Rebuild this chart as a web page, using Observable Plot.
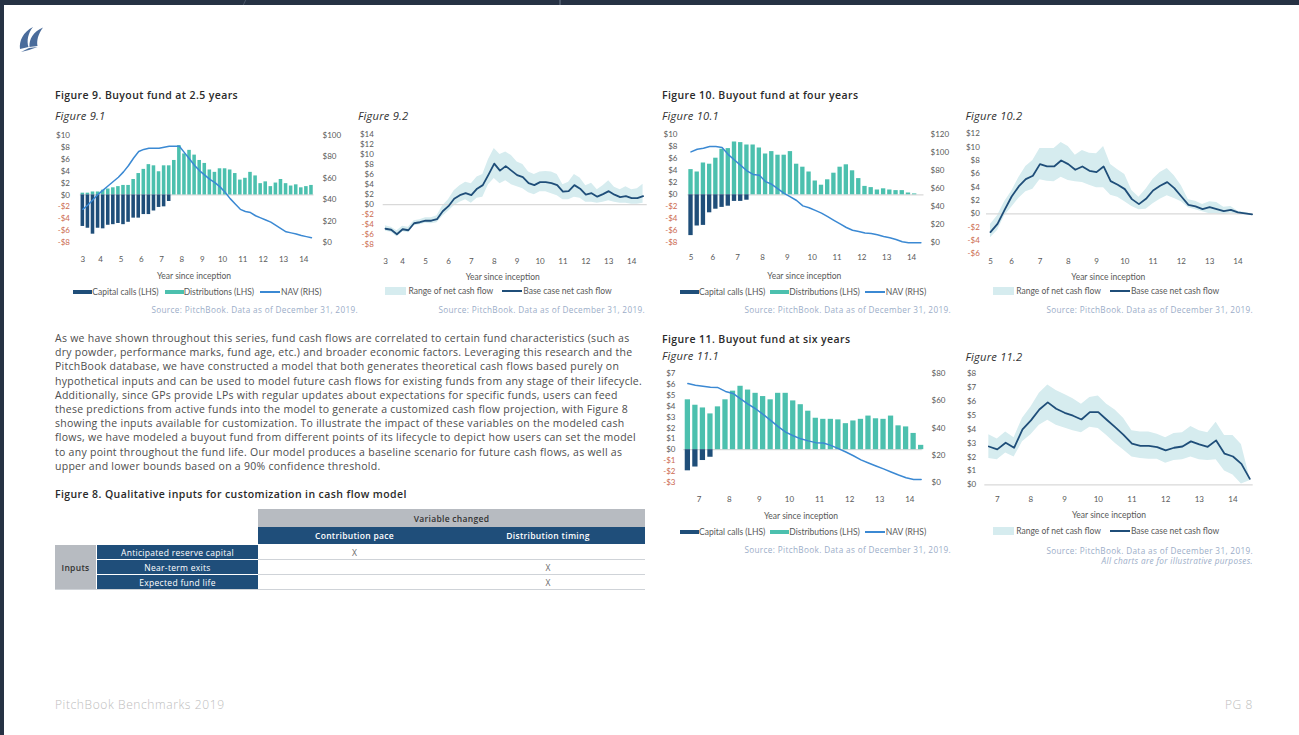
<!DOCTYPE html>
<html><head><meta charset="utf-8">
<script src="https://cdn.jsdelivr.net/npm/d3@7"></script>
<script src="https://cdn.jsdelivr.net/npm/@observablehq/plot@0.6"></script>
<style>
html,body{margin:0;padding:0;}
body{width:1299px;height:735px;position:relative;overflow:hidden;background:#fff;font-family:"Open Sans",sans-serif;}
.t{position:absolute;white-space:nowrap;line-height:1;}
.fig{font-weight:600;font-size:10.5px;letter-spacing:0.4px;color:#2a2a2a;}
.sub{font-style:italic;font-size:11.2px;letter-spacing:0.2px;color:#333;}
.src{font-size:8.2px;letter-spacing:0.35px;color:#9badc8;}
.ax{font-family:Lato,sans-serif;font-size:8.5px;color:#595959;}
.leg{position:absolute;display:flex;align-items:center;font-family:Lato,sans-serif;font-size:8.5px;color:#595959;white-space:nowrap;height:10px;}
.cell{position:absolute;display:flex;align-items:center;justify-content:center;font-size:8.5px;letter-spacing:0.3px;box-sizing:border-box;white-space:nowrap;}
.para{position:absolute;left:55px;top:331px;font-size:10.5px;letter-spacing:0.27px;line-height:14.2px;color:#4d4d4d;white-space:nowrap;}
</style></head>
<body>
<div style="position:absolute;left:0;top:0;width:1299px;height:5px;background:#263244"></div>
<div style="position:absolute;left:0;top:0;width:4px;height:735px;background:#263244"></div>
<div style="position:absolute;left:244px;top:0;width:1px;height:5px;background:#4a5668;transform:skewX(-25deg)"></div>
<div style="position:absolute;left:559px;top:0;width:2px;height:5px;background:#4a5668"></div>
<svg style="position:absolute;left:18px;top:26px" width="28" height="26" viewBox="0 0 28 26">
  <path d="M2,23 C1,15 5,6 15,1 C10,7 8.5,15 10.5,21 Z" fill="#4a6c9b"/>
  <path d="M11.5,21 C11,13 15,6 25,1.5 C20,8 18.5,15 19.5,20 Z" fill="#4a6c9b"/>
  <path d="M3,26 L11,22 L19.5,21 L11,24 Z" fill="#4a6c9b"/>
</svg>

<div class="para" id="para"></div>

<div class="t fig" style="left:55px;top:494px;transform:translateY(-50%)">Figure 8. Qualitative inputs for customization in cash flow model</div>
<div class="cell" style="left:258px;top:509px;width:387px;height:18px;background:#b7bbc1;color:#333;font-weight:600">Variable changed</div>
<div class="cell" style="left:258px;top:527px;width:193px;height:17px;background:#1f4e7a;color:#fff;font-weight:600">Contribution pace</div>
<div class="cell" style="left:451px;top:527px;width:194px;height:17px;background:#1f4e7a;color:#fff;font-weight:600">Distribution timing</div>
<div class="cell" style="left:55px;top:545px;width:41px;height:44px;background:#b7bbc1;color:#333;font-weight:600">Inputs</div>
<div class="cell" style="left:97px;top:545px;width:161px;height:14px;background:#1f4e7a;color:#fff">Anticipated reserve capital</div>
<div class="cell" style="left:97px;top:560px;width:161px;height:14px;background:#1f4e7a;color:#fff">Near-term exits</div>
<div class="cell" style="left:97px;top:575px;width:161px;height:14px;background:#1f4e7a;color:#fff">Expected fund life</div>
<div class="cell" style="left:258px;top:545px;width:387px;height:15px;border-bottom:1px solid #cfd3d8"></div>
<div class="cell" style="left:258px;top:560px;width:387px;height:15px;border-bottom:1px solid #cfd3d8"></div>
<div class="cell" style="left:55px;top:575px;width:590px;height:15px;border-bottom:1px solid #cfd3d8"></div>
<div class="cell" style="left:258px;top:545px;width:193px;height:14px;color:#6a6a6a">X</div>
<div class="cell" style="left:451px;top:560px;width:194px;height:14px;color:#6a6a6a">X</div>
<div class="cell" style="left:451px;top:575px;width:194px;height:14px;color:#6a6a6a">X</div>

<div class="t" style="left:55px;top:705px;transform:translateY(-50%);font-size:12px;letter-spacing:0.6px;font-weight:300;color:#bdbdbd">PitchBook Benchmarks 2019</div>
<div class="t" style="left:1253px;top:705px;transform:translate(-100%,-50%);font-size:12px;letter-spacing:0.6px;font-weight:300;color:#bdbdbd">PG 8</div>

<script>
// ---------- data ----------
const paragraphLines = [
"As we have shown throughout this series, fund cash flows are correlated to certain fund characteristics (such as",
"dry powder, performance marks, fund age, etc.) and broader economic factors. Leveraging this research and the",
"PitchBook database, we have constructed a model that both generates theoretical cash flows based purely on",
"hypothetical inputs and can be used to model future cash flows for existing funds from any stage of their lifecycle.",
"Additionally, since GPs provide LPs with regular updates about expectations for specific funds, users can feed",
"these predictions from active funds into the model to generate a customized cash flow projection, with Figure 8",
"showing the inputs available for customization. To illustrate the impact of these variables on the modeled cash",
"flows, we have modeled a buyout fund from different points of its lifecycle to depict how users can set the model",
"to any point throughout the fund life. Our model produces a baseline scenario for future cash flows, as well as",
"upper and lower bounds based on a 90% confidence threshold."
];

// Figure 9 (fund at 2.5 years), quarterly from year 3
const fig9BarStart = 3.125, fig9LineStart = 3.25;
const fig91Calls = [-5.3,-5.6,-6.6,-5.6,-5.7,-5.1,-5.0,-4.8,-5.0,-4.6,-3.9,-3.9,-3.3,-3.3,-2.7,-2.1,-2.0,-1.1];
const fig91Dist = [0.3,0.3,0.5,0.5,0.8,1.0,1.2,1.4,1.6,1.6,2.6,3.6,4.3,5.1,4.9,3.9,4.9,4.9,5.8,8.3,6.9,7.5,6.7,5.8,5.3,4.2,3.8,4.4,4.4,4.2,3.6,2.5,2.8,3.8,3.2,1.9,2.2,1.4,2.0,2.6,1.9,1.5,1.7,1.2,1.4,1.6];
const fig91Nav = [31,35,40,45,49,53,57,61,66,72,79,85,87,88,88,88,89,90,90,90,84,78,72,67,63,59,56,52,47,41,36,31,29,28,25,23,21,19,16,13,10,9,8,6.5,5.5,4.5];
const fig92Base = [-4.8,-5.0,-5.9,-4.9,-5.1,-3.7,-3.5,-3.2,-3.2,-2.9,-1.3,-0.3,1.2,1.9,2.3,1.9,3.2,3.9,6.0,8.2,6.8,7.7,6.8,5.9,5.5,4.3,3.9,4.5,4.5,4.3,3.9,2.6,2.7,3.9,3.2,2.0,2.3,1.6,2.1,2.7,2.0,1.5,1.7,1.3,1.3,1.7];
const fig92High = [-4.2,-4.5,-5.2,-4.3,-4.5,-3.2,-3.0,-2.6,-2.6,-2.2,-0.2,1.0,2.8,3.8,4.5,4.2,5.5,6.0,9.0,11.2,10.0,10.5,9.8,8.5,8.0,6.5,6.0,6.5,6.6,6.5,6.0,4.0,4.5,6.0,5.3,3.8,4.3,3.0,3.8,4.8,3.5,3.0,3.6,3.0,3.2,4.1];
const fig92Low = [-5.3,-5.5,-6.4,-5.4,-5.6,-4.2,-4.0,-3.7,-3.8,-3.6,-2.3,-1.3,-0.2,0.5,1.0,0.3,1.3,1.5,4.0,5.2,4.2,4.8,4.0,3.6,3.2,2.4,2.0,2.6,2.6,2.2,1.8,1.0,1.0,1.5,1.3,0.5,0.5,0.3,0.5,0.8,0.5,0.3,0.3,0.1,0.1,0.3];

// Figure 10 (fund at four years), quarterly from year 5
const fig10BarStart = 5.125, fig10LineStart = 5.25;
const fig101Calls = [-6.8,-5.2,-5.1,-3.0,-2.4,-2.1,-1.9,-1.1,-1.1,-0.9];
const fig101Dist = [4.2,3.8,5.3,5.1,6.1,7.6,7.7,8.8,8.7,8.3,8.3,7.8,6.8,7.2,6.6,6.6,7.2,5.1,4.6,3.8,2.3,1.6,2.5,3.6,4.6,5.0,4.0,2.7,1.4,1.2,0.8,1.0,0.8,0.7,0.7,0.3,0.15,0];
const fig101Nav = [101,104,105,107,107,106,98,92,86,80,76,75,68,65,60,55,51,47,41,39,36,33,29,25,21,17,14,12.6,11,10.4,8.9,7,5.6,3.7,1.1,0,0,0];
const fig102Base = [-2.75,-1.5,0.6,2.6,4.1,5.2,5.7,7.45,7.1,7.1,8.0,7.45,6.6,7.1,6.45,6.25,7.1,4.9,4.35,3.7,2.2,1.45,2.25,3.5,4.2,4.75,3.85,2.6,1.35,1.1,0.7,1.0,0.7,0.4,0.6,0.2,0.05,-0.1];
const fig102High = [-1.6,-0.3,1.8,3.4,5.4,7.1,8.0,9.8,9.8,9.8,10.7,10.1,8.8,9.5,9.1,9.0,10.1,7.4,6.6,5.9,3.5,2.5,3.7,5.2,6.2,6.8,5.7,4.2,2.1,1.9,1.4,1.8,1.7,1.0,1.1,0.4,0.2,0.0];
const fig102Low = [-3.6,-2.5,-0.3,1.0,2.3,3.3,3.7,5.1,4.9,4.8,5.5,5.0,4.8,4.7,4.3,3.9,3.9,2.8,2.5,1.8,1.1,0.6,0.7,1.5,2.2,2.7,2.3,1.8,0.9,0.6,0.3,0.0,0.0,-0.1,0.1,-0.1,-0.1,-0.2];

// Figure 11 (fund at six years), quarterly from year 6.5
const fig11BarStart = 6.625, fig11LineStart = 6.75;
const fig111Calls = [-1.95,-1.6,-1.0,-0.7];
const fig111Dist = [4.6,4.1,3.85,3.3,3.95,4.6,5.4,5.85,5.5,5.2,4.9,4.6,5.2,5.2,4.5,4.15,3.55,2.9,2.8,2.8,2.75,2.4,2.65,2.8,3.1,2.85,2.8,3.1,2.2,2.1,1.5,0.4];
const fig111Nav = [72.8,71.6,70.8,70,69.8,67,65.5,61.5,57.6,54.2,50,45.6,41,37,34.3,32,30.5,29.2,28.9,27.2,24.8,22.3,19.5,16.5,14.2,12,9.8,7.5,5.3,3.3,2,2];
const fig112Base = [2.76,2.55,3.03,2.67,4.0,4.64,5.43,5.94,5.48,5.19,4.98,4.71,5.24,5.24,4.69,4.16,3.6,2.96,2.81,2.81,2.72,2.48,2.67,2.76,3.13,2.91,2.74,3.2,2.24,2.04,1.51,0.43];
const fig112High = [3.6,3.3,3.8,3.4,4.8,5.6,6.6,7.2,6.8,6.5,6.2,5.8,6.3,6.4,5.8,5.4,4.8,3.9,3.8,3.8,3.65,3.4,3.7,3.75,4.2,3.9,3.75,4.5,3.55,3.55,2.9,0.5];
const fig112Low = [1.9,1.8,2.3,2.0,3.1,3.6,4.3,4.65,4.3,4.1,3.9,3.75,4.15,4.05,3.55,3.0,2.5,2.0,1.9,1.85,1.85,1.55,1.75,1.8,2.0,1.8,1.75,1.8,1.0,0.7,0.05,0.3];

// tick labels
const ticks9Bar = [3.125,4,5,6,7,8,9,10,11,12,13,14];
const ticks9Line = [3.25,4,5,6,7,8,9,10,11,12,13,14];
const ticks10Bar = [5.125,6,7,8,9,10,11,12,13,14];
const ticks10Line = [5.25,6,7,8,9,10,11,12,13,14];
const ticks11 = [7,8,9,10,11,12,13,14];

// ---------- styling ----------
const NAVY="#1f4e79", TEAL="#4cc0ae", BLUE="#3b89d3", BAND="#d6ecef", ZERO="#d9d9d9", NEG="#cc6a50", TICK="#595959";
const SRC = "Source: PitchBook. Data as of December 31, 2019.";
const fmtD = d => (d < 0 ? "-$" : "$") + Math.abs(d);
const plotStyle = {fontFamily: "Lato, sans-serif", fontSize: "8px", overflow: "visible", background: "transparent"};

document.getElementById("para").innerHTML = paragraphLines.map(l => `<div>${l}</div>`).join("");

function txt(s, x, y, cls, anchor = "start") {
  const d = document.createElement("div");
  d.className = "t " + cls;
  d.textContent = s;
  d.style.left = x + "px"; d.style.top = y + "px";
  d.style.transform = `translate(${anchor === "middle" ? "-50%" : anchor === "end" ? "-100%" : "0"},-50%)`;
  document.body.appendChild(d);
  return d;
}
function legend(items, x, y, gap) {
  const d = document.createElement("div");
  d.className = "leg";
  d.style.left = x + "px"; d.style.top = (y - 5) + "px";
  items.forEach(([type, color, label], k) => {
    const sw = document.createElement("span");
    sw.style.display = "inline-block";
    sw.style.background = color;
    if (type === "bar") { sw.style.width = "19px"; sw.style.height = "4px"; }
    else if (type === "band") { sw.style.width = "21px"; sw.style.height = "8px"; sw.style.marginRight = "2.5px"; }
    else { sw.style.width = "20px"; sw.style.height = "2px"; sw.style.marginRight = "1px"; }
    if (k > 0) sw.style.marginLeft = gap + "px";
    const lb = document.createElement("span");
    lb.textContent = label;
    d.appendChild(sw); d.appendChild(lb);
  });
  document.body.appendChild(d);
}
function mount(svg, left, top) {
  svg.style.position = "absolute"; svg.style.left = left + "px"; svg.style.top = top + "px";
  document.body.appendChild(svg);
}
function frame(c) {
  return {width: c.width, height: c.height,
    marginLeft: c.px[0] - c.left, marginRight: c.left + c.width - c.px[1],
    marginTop: c.py[1] - c.top, marginBottom: c.top + c.height - c.py[0]};
}
function baseAxes(c) {
  const pos = c.yTicks.filter(d => d >= 0), neg = c.yTicks.filter(d => d < 0);
  const m = [Plot.axisY(pos, {anchor: "left", tickSize: 0, tickPadding: c.padL, tickFormat: fmtD, fill: TICK, label: null})];
  if (neg.length) m.push(Plot.axisY(neg, {anchor: "left", tickSize: 0, tickPadding: c.padL, tickFormat: fmtD, fill: NEG, label: null}));
  m.push(Plot.axisX(c.xTicks, {anchor: "bottom", tickSize: 0, tickPadding: c.padX, tickFormat: d => Math.floor(d), fill: TICK, label: null}));
  return m;
}
function barNav(c) {
  const yd = c.yDomain, nd = c.navDomain;
  const toL = n => yd[0] + (n - nd[0]) / (nd[1] - nd[0]) * (yd[1] - yd[0]);
  const fromL = v => nd[0] + (v - yd[0]) / (yd[1] - yd[0]) * (nd[1] - nd[0]);
  const rows = c.dist.map((v, i) => ({x: c.start + 0.25 * i, dist: v, call: c.calls[i] ?? 0, nav: c.nav[i]}));
  const ppy = (c.px[1] - c.px[0]) / (c.xDomain[1] - c.xDomain[0]);
  const ins = 0.25 * ppy * 0.15;
  const bar = {x1: d => d.x - 0.125, x2: d => d.x + 0.125, y1: () => 0, insetLeft: ins, insetRight: ins};
  const svg = Plot.plot({...frame(c), x: {domain: c.xDomain}, y: {domain: yd}, style: plotStyle, marks: [
    Plot.ruleY([0], {stroke: ZERO, strokeWidth: 1.3}),
    Plot.rect(rows, {...bar, y2: "dist", fill: TEAL}),
    Plot.rect(rows.filter(d => d.call < 0), {...bar, y2: "call", fill: NAVY}),
    Plot.line(rows, {x: "x", y: d => toL(d.nav), stroke: BLUE, strokeWidth: 1.5}),
    ...baseAxes(c),
    Plot.axisY(c.navTicks.map(toL), {anchor: "right", tickSize: 0, tickPadding: c.padR, tickFormat: d => fmtD(Math.round(fromL(d))), fill: TICK, label: null})
  ]});
  mount(svg, c.left, c.top);
}
function bandChart(c) {
  const rows = c.base.map((v, i) => ({x: c.start + 0.25 * i, base: v, lo: c.low[i], hi: c.high[i]}));
  const svg = Plot.plot({...frame(c), x: {domain: c.xDomain}, y: {domain: c.yDomain}, style: plotStyle, marks: [
    Plot.areaY(rows, {x: "x", y1: "lo", y2: "hi", fill: BAND}),
    Plot.ruleY([0], {stroke: ZERO, strokeWidth: 1.3}),
    Plot.line(rows, {x: "x", y: "base", stroke: NAVY, strokeWidth: 1.8}),
    ...baseAxes(c)
  ]});
  mount(svg, c.left, c.top);
}
const barLegend = [["bar", NAVY, "Capital calls (LHS)"], ["bar", TEAL, "Distributions (LHS)"], ["line", BLUE, "NAV (RHS)"]];
const bandLegend = [["band", BAND, "Range of net cash flow"], ["thick", NAVY, "Base case net cash flow"]];

// ---------- Figure 9 ----------
txt("Figure 9. Buyout fund at 2.5 years", 55, 95, "fig");
txt("Figure 9.1", 55, 115.5, "sub");
txt("Figure 9.2", 358, 115.5, "sub");
barNav({left: 50, top: 125, width: 300, height: 140, px: [79.8, 313.5], py: [242, 135],
  xDomain: [3, 14.5], yDomain: [-8, 10], navDomain: [0, 100],
  yTicks: d3.range(-8, 11, 2), navTicks: d3.range(0, 101, 20), xTicks: ticks9Bar,
  padL: 10.3, padR: 8.5, padX: 13.5,
  start: fig9BarStart, calls: fig91Calls, dist: fig91Dist, nav: fig91Nav});
txt("Year since inception", 194, 275.7, "ax", "middle");
legend(barLegend, 73.3, 292, 6);
txt(SRC, 358, 309.5, "src", "end");

bandChart({left: 340, top: 124, width: 320, height: 142, px: [382.7, 646.7], py: [244.3, 134],
  xDomain: [3.15, 14.68], yDomain: [-8, 14], yTicks: d3.range(-8, 15, 2), xTicks: ticks9Line,
  padL: 9.4, padX: 14,
  start: fig9LineStart, base: fig92Base, low: fig92Low, high: fig92High});
txt("Year since inception", 502.7, 277.3, "ax", "middle");
legend(bandLegend, 385, 291, 9);
txt(SRC, 645, 310, "src", "end");

// ---------- Figure 10 ----------
txt("Figure 10. Buyout fund at four years", 662, 95, "fig");
txt("Figure 10.1", 662, 115.5, "sub");
txt("Figure 10.2", 965.5, 115.5, "sub");
barNav({left: 655, top: 124, width: 300, height: 142, px: [687.4, 923.5], py: [242.3, 134.3],
  xDomain: [5, 14.5], yDomain: [-8, 10], navDomain: [0, 120],
  yTicks: d3.range(-8, 11, 2), navTicks: d3.range(0, 121, 20), xTicks: ticks10Bar,
  padL: 10.4, padR: 6.5, padX: 12,
  start: fig10BarStart, calls: fig101Calls, dist: fig101Dist, nav: fig101Nav});
txt("Year since inception", 804.3, 275.7, "ax", "middle");
legend(barLegend, 680, 292, 5);
txt(SRC, 951, 310, "src", "end");

bandChart({left: 955, top: 123, width: 305, height: 145, px: [986, 1252.7], py: [253.3, 133.3],
  xDomain: [5.11, 14.54], yDomain: [-6, 12], yTicks: d3.range(-6, 13, 2), xTicks: ticks10Line,
  padL: 6.7, padX: 4.6,
  start: fig10LineStart, base: fig102Base, low: fig102Low, high: fig102High});
txt("Year since inception", 1108.3, 276.7, "ax", "middle");
legend(bandLegend, 992.7, 291, 9);
txt(SRC, 1253, 310, "src", "end");

// ---------- Figure 11 ----------
txt("Figure 11. Buyout fund at six years", 662, 338.5, "fig");
txt("Figure 11.1", 662, 356, "sub");
txt("Figure 11.2", 965.5, 356.5, "sub");
barNav({left: 655, top: 363, width: 300, height: 145, px: [683.3, 921.7], py: [481.7, 373.3],
  xDomain: [6.49, 14.41], yDomain: [-3, 7], navDomain: [0, 80],
  yTicks: d3.range(-3, 8, 1), navTicks: d3.range(0, 81, 20), xTicks: ticks11,
  padL: 8.3, padR: 9.3, padX: 14.5,
  start: fig11BarStart, calls: fig111Calls, dist: fig111Dist, nav: fig111Nav});
txt("Year since inception", 801, 515.7, "ax", "middle");
legend(barLegend, 680, 531.7, 5);
txt(SRC, 951, 550, "src", "end");

bandChart({left: 955, top: 363, width: 305, height: 145, px: [984.3, 1252.7], py: [484.3, 373.3],
  xDomain: [6.63, 14.6], yDomain: [0, 8], yTicks: d3.range(0, 9, 1), xTicks: ticks11,
  padL: 8.6, padX: 11.2,
  start: fig11LineStart, base: fig112Base, low: fig112Low, high: fig112High});
txt("Year since inception", 1109, 515, "ax", "middle");
legend(bandLegend, 992.7, 531, 9);
txt(SRC, 1253, 550.5, "src", "end");
txt("All charts are for illustrative purposes.", 1253, 560.5, "src", "end").style.fontStyle = "italic";
</script>
</body></html>
